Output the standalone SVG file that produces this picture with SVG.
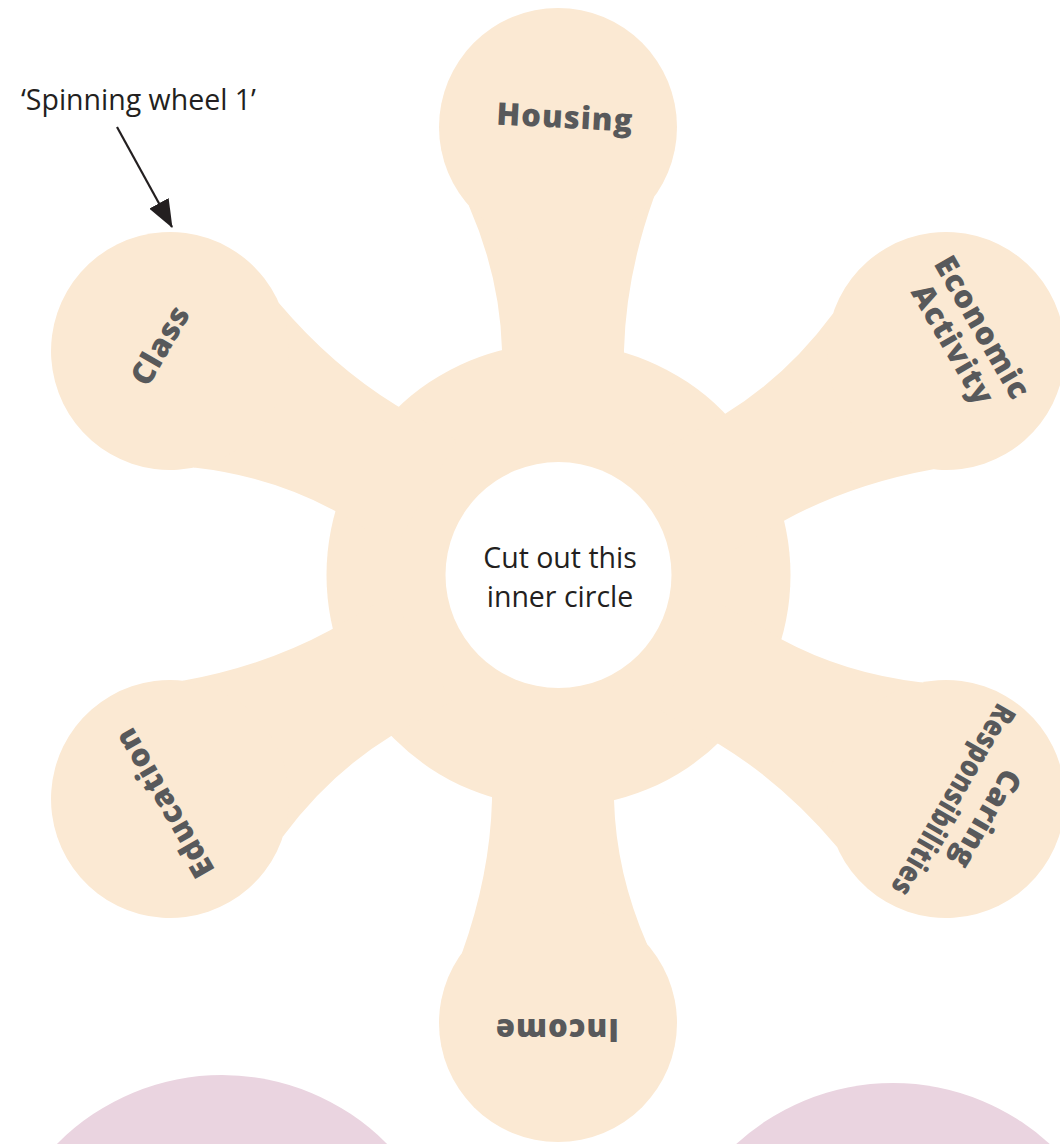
<svg xmlns="http://www.w3.org/2000/svg" xmlns:xlink="http://www.w3.org/1999/xlink" width="1060" height="1144" viewBox="0 0 1060 1144">
<style>
.peach{fill:#FBE9D3;}
.pink{fill:#EAD4E0;}
.lbl{font-family:"Open Sans","Liberation Sans",sans-serif;font-weight:800;font-size:31px;fill:#58595B;text-anchor:middle;letter-spacing:1px;}
.note{font-family:"Open Sans","Liberation Sans",sans-serif;font-size:28.5px;fill:#231F20;}
.mid{text-anchor:middle;}
</style>
<defs>
<g id="spoke">
<path class="peach" d="M502,420 L502,350 Q500,277 469,206 L558,127 L654,197 Q626,275 624,350 L624,420 Z"/>
<circle class="peach" cx="558" cy="127" r="119"/>
</g>
<marker id="arrow" markerUnits="userSpaceOnUse" markerWidth="28" markerHeight="22" viewBox="0 0 28 22" refX="27" refY="11" orient="auto">
<path d="M0,0 L28,11 L0,22 Z" fill="#231F20"/>
</marker>
</defs>
<g id="pink-shapes">
<circle class="pink" cx="222" cy="1307" r="232"/>
<circle class="pink" cx="893" cy="1315" r="232"/>
</g>
<g id="hub">
<circle class="peach" cx="558.5" cy="575" r="232"/>
</g>
<g id="node-housing">
<use xlink:href="#spoke" href="#spoke"/>
<text class="lbl" transform="translate(565,117) rotate(3)" y="11">Housing</text>
</g>
<g id="node-economic">
<use xlink:href="#spoke" href="#spoke" transform="rotate(60 558 575)"/>
<text class="lbl" transform="translate(968,336) rotate(60)"><tspan x="0" y="-6">Economic</tspan><tspan x="0" y="28">Activity</tspan></text>
</g>
<g id="node-caring">
<use xlink:href="#spoke" href="#spoke" transform="rotate(120 558 575)"/>
<text class="lbl" transform="translate(970,810) rotate(120)"><tspan x="0" y="-8">Caring</tspan><tspan x="0" y="30" textLength="216" lengthAdjust="spacingAndGlyphs">Responsibilities</tspan></text>
</g>
<g id="node-income">
<use xlink:href="#spoke" href="#spoke" transform="rotate(180 558 575)"/>
<text class="lbl" transform="translate(557,1030) rotate(180)" y="11">Income</text>
</g>
<g id="node-education">
<use xlink:href="#spoke" href="#spoke" transform="rotate(240 558 575)"/>
<text class="lbl" transform="translate(164,803) rotate(240)" y="11">Education</text>
</g>
<g id="node-class">
<use xlink:href="#spoke" href="#spoke" transform="rotate(300 558 575)"/>
<text class="lbl" transform="translate(160,345) rotate(-60)" y="11">Class</text>
</g>
<g id="node-center">
<circle cx="558.5" cy="575" r="113" fill="#FFFFFF"/>
<text class="note mid" x="560" y="568">Cut out this</text>
<text class="note mid" x="560" y="607">inner circle</text>
</g>
<g id="node-title">
<text class="note" x="21" y="110">‘Spinning wheel 1’</text>
</g>
<g id="connectors">
<line x1="117" y1="127" x2="172" y2="227" stroke="#231F20" stroke-width="2.2" marker-end="url(#arrow)"/>
</g>
</svg>
